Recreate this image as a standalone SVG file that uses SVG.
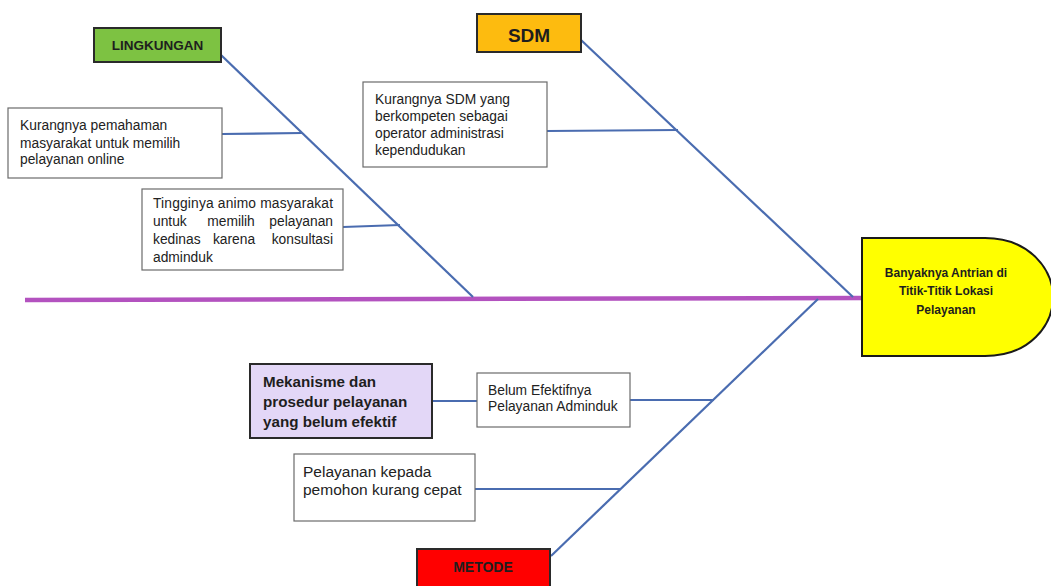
<svg xmlns="http://www.w3.org/2000/svg" width="1051" height="586" viewBox="0 0 1051 586">
<style>
.bone{stroke:#4a6cb0;stroke-width:2.2;fill:none}
.box{fill:#fff;stroke:#6b6b6b;stroke-width:1.2}
.cat{stroke:#2a2a2a;stroke-width:2}
.t{font-family:"Liberation Sans",Arial,sans-serif;font-size:13.8px;fill:#222}
.b{font-family:"Liberation Sans",Arial,sans-serif;font-weight:bold;fill:#1e1e1e}
</style>
<rect width="1051" height="586" fill="#fff"/>
<g id="connectors">
<line x1="25" y1="300" x2="864" y2="298" stroke="#b352bf" stroke-width="4.5"/>
<line class="bone" x1="221" y1="55" x2="473" y2="297"/>
<line class="bone" x1="581" y1="40" x2="853" y2="297"/>
<line class="bone" x1="551" y1="556" x2="818" y2="299"/>
<line class="bone" x1="222" y1="134" x2="302" y2="133"/>
<line class="bone" x1="343" y1="227" x2="400" y2="225"/>
<line class="bone" x1="547" y1="131" x2="678" y2="130"/>
<line class="bone" x1="432" y1="401" x2="477" y2="401"/>
<line class="bone" x1="630" y1="400" x2="714" y2="400"/>
<line class="bone" x1="475" y1="489" x2="620" y2="489"/>
</g>
<g id="head">
<path d="M862,238 L985,238 C1030,238 1053,270 1053,297 C1053,325 1030,356 985,356 L862,356 Z" fill="#ffff00" stroke="#1a1a1a" stroke-width="2"/>
<text class="b" font-size="12" text-anchor="middle" x="946" y="277">Banyaknya Antrian di</text>
<text class="b" font-size="12" text-anchor="middle" x="946" y="295">Titik-Titik Lokasi</text>
<text class="b" font-size="12" text-anchor="middle" x="946" y="314">Pelayanan</text>
</g>
<g id="lingkungan">
<rect class="cat" x="94" y="28" width="127" height="34" fill="#7dc242"/>
<text class="b" font-size="13.5" text-anchor="middle" x="157.5" y="50">LINGKUNGAN</text>
</g>
<g id="sdm">
<rect class="cat" x="477" y="14" width="104" height="38" fill="#fdbb0f"/>
<text class="b" font-size="19" text-anchor="middle" x="529" y="42">SDM</text>
</g>
<g id="metode">
<rect class="cat" x="417" y="549" width="133" height="45" fill="#ff0000"/>
<text class="b" font-size="14" text-anchor="middle" x="483" y="572" fill="#4a0505">METODE</text>
</g>
<g id="mekanisme">
<rect class="cat" x="250" y="364" width="182" height="74" fill="#e3d7f7"/>
<text class="b" font-size="15.2" x="263" y="387">Mekanisme dan</text>
<text class="b" font-size="15.2" x="263" y="407">prosedur pelayanan</text>
<text class="b" font-size="15.2" x="263" y="427">yang belum efektif</text>
</g>
<g id="kurang-pemahaman">
<rect class="box" x="8" y="108" width="214" height="70"/>
<text class="t" x="20" y="130">Kurangnya pemahaman</text>
<text class="t" x="20" y="148">masyarakat untuk memilih</text>
<text class="t" x="20" y="164">pelayanan online</text>
</g>
<g id="animo">
<rect class="box" x="142" y="189" width="201" height="81"/>
<text class="t" x="153" y="208" textLength="180" lengthAdjust="spacing">Tingginya animo masyarakat</text>
<text class="t" x="153" y="226">untuk</text>
<text class="t" x="231" y="226" text-anchor="middle">memilih</text>
<text class="t" x="333" y="226" text-anchor="end">pelayanan</text>
<text class="t" x="153" y="244">kedinas</text>
<text class="t" x="234" y="244" text-anchor="middle">karena</text>
<text class="t" x="333" y="244" text-anchor="end">konsultasi</text>
<text class="t" x="153" y="262">adminduk</text>
</g>
<g id="sdm-kurang">
<rect class="box" x="363" y="82" width="184" height="85"/>
<text class="t" x="375" y="104">Kurangnya SDM yang</text>
<text class="t" x="375" y="121">berkompeten sebagai</text>
<text class="t" x="375" y="138">operator administrasi</text>
<text class="t" x="375" y="155">kependudukan</text>
</g>
<g id="belum-efektif">
<rect class="box" x="477" y="373" width="153" height="54"/>
<text class="t" x="488" y="395">Belum Efektifnya</text>
<text class="t" x="488" y="411">Pelayanan Adminduk</text>
</g>
<g id="kurang-cepat">
<rect class="box" x="294" y="454" width="181" height="67"/>
<text class="t" style="font-size:15.5px" x="303" y="477">Pelayanan kepada</text>
<text class="t" style="font-size:15.5px" x="303" y="495">pemohon kurang cepat</text>
</g>
</svg>
